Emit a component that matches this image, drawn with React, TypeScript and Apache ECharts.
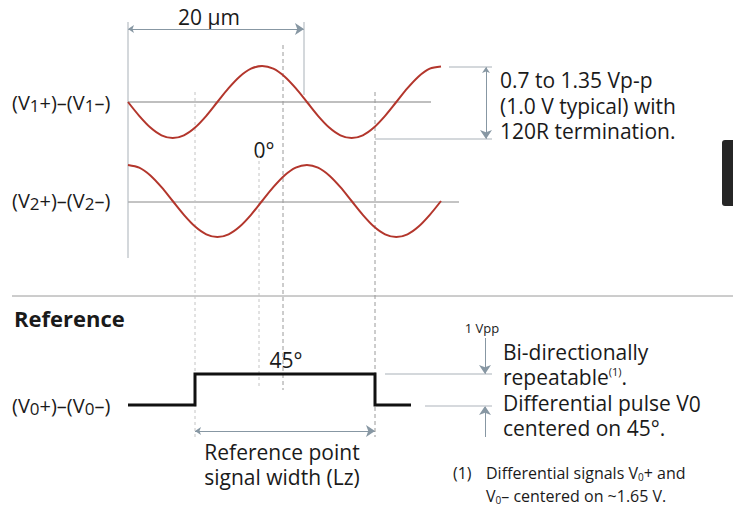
import React, { useEffect, useRef } from "react";
import * as echarts from "echarts";

const FONT = "'Open Sans', 'Noto Sans', sans-serif";

// Waveform sample positions (diagram units ≈ px) and levels
const waveX = [
  128, 139.2, 150.4, 161.5, 172.7, 183.9, 195.1, 206.3, 217.4, 228.6, 239.8, 251, 262.1, 273.3, 284.5,
  295.7, 306.9, 318, 329.2, 340.4, 351.6, 362.8, 373.9, 385.1, 396.3, 407.5, 418.6, 429.8, 441,
];
const wave1Y = [
  102, 115.8, 127.5, 135.3, 138, 135.3, 127.5, 115.8, 102, 88.2, 76.5, 68.7, 66, 68.7, 76.5, 88.2, 102,
  115.8, 127.5, 135.3, 138, 135.3, 127.5, 115.8, 102, 88.2, 76.5, 68.7, 66.5,
];
const wave2Y = [
  165, 167.7, 175.5, 187.2, 201, 214.8, 226.5, 234.3, 237, 234.3, 226.5, 214.8, 201, 187.2, 175.5, 167.7,
  165, 167.7, 175.5, 187.2, 201, 214.8, 226.5, 234.3, 237, 234.3, 226.5, 214.8, 201,
];

const pulseX = [128, 195, 195, 375, 375, 411];
const pulseY = [405, 405, 374, 374, 405, 405];

// Guide lines: [x1, y1, x2, y2]
const baseline1 = [128, 102, 431, 102];
const baseline2 = [128, 202, 459, 202];
const separator = [12, 296, 733, 296];
const solidGuides = [
  [128, 22, 128, 258],
  [304, 22, 304, 95],
  [449, 67, 492, 67],
  [375, 139, 492, 139],
  [385, 374, 492, 374],
];
const lightGuides = [[425, 406, 492, 406]];
const dottedGuides = [
  [195, 92, 195, 437],
  [259, 155, 259, 388],
];
const dashedGuides = [
  [283, 45, 283, 390],
  [375, 92, 375, 437],
];
const doubleArrows = [
  [128, 29, 304, 29],
  [486, 67, 486, 139],
  [195, 431, 375, 431],
];
const singleArrows = [
  [485, 338, 485, 374],
  [485, 437, 485, 406],
];

function segsData(list: number[][]) {
  const out: any[] = [];
  list.forEach((s) => {
    out.push([s[0], s[1]], [s[2], s[3]], [null, null]);
  });
  return out;
}

export default function App() {
  const ref = useRef<HTMLDivElement>(null);
  useEffect(() => {
    document.body.style.margin = "0";
    const chart = echarts.init(ref.current!, null, { renderer: "svg" });
    const arrowColor = "#8797a3";
    const ink = "#1a1a1a";
    const lineSeries = (data: any[], style: any, z = 2) => ({
      type: "line",
      data,
      showSymbol: false,
      connectNulls: false,
      silent: true,
      z,
      lineStyle: style,
    });
    const txt = (x: number, y: number, text: string, extra: any = {}) => {
      const fs = extra.fontSize || 21;
      return {
        type: "text",
        x,
        y,
        silent: true,
        style: {
          text,
          fill: ink,
          fontFamily: FONT,
          fontSize: fs,
          lineHeight: fs + 1,
          verticalAlign: "middle",
          align: "left",
          ...extra,
        },
      };
    };
    const subLabel = (y: number, n: string) =>
      txt(12, y, `{a|(V}{s|${n}}{a|+)–(V}{s|${n}}{a|–)}`, {
        fontSize: 20,
        rich: {
          a: { fontSize: 20, fontFamily: FONT, lineHeight: 24, fill: ink },
          s: { fontSize: 17, fontFamily: FONT, lineHeight: 17, verticalAlign: "bottom", fill: ink },
        },
      });
    const richLine = (x: number, y: number, text: string, fa: number, fs: number, sAlign: string, sLH: number) =>
      txt(x, y, text, {
        fontSize: fa,
        rich: {
          a: { fontSize: fa, fontFamily: FONT, lineHeight: fa + 1, fill: ink },
          s: { fontSize: fs, fontFamily: FONT, lineHeight: sLH, verticalAlign: sAlign, fill: ink },
        },
      });

    chart.setOption({
      animation: false,
      grid: { left: 0, right: 0, top: 0, bottom: 0 },
      xAxis: { type: "value", min: 0, max: 733, show: false },
      yAxis: { type: "value", min: 0, max: 506, inverse: true, show: false },
      series: [
        lineSeries(segsData([baseline1]), { color: "#aaaaaa", width: 1.5 }),
        lineSeries(segsData([baseline2]), { color: "#888888", width: 1 }),
        lineSeries(segsData([separator]), { color: "#9a9a9a", width: 1 }),
        lineSeries(segsData(solidGuides), { color: "#a9b1b8", width: 1 }),
        lineSeries(segsData(lightGuides), { color: "#c8cdd2", width: 1.5 }),
        lineSeries(segsData(dottedGuides), { color: "#c4c4c4", width: 1, type: [3, 3] }),
        lineSeries(segsData(dashedGuides), { color: "#9a9a9a", width: 1, type: [4, 3] }),
        {
          type: "line",
          data: waveX.map((x, i) => [x, wave1Y[i]]),
          smooth: 0.3,
          showSymbol: false,
          z: 5,
          lineStyle: { color: "#b3362c", width: 2 },
        },
        {
          type: "line",
          data: waveX.map((x, i) => [x, wave2Y[i]]),
          smooth: 0.3,
          showSymbol: false,
          z: 5,
          lineStyle: { color: "#b3362c", width: 2 },
        },
        {
          type: "line",
          data: pulseX.map((x, i) => [x, pulseY[i]]),
          showSymbol: false,
          z: 5,
          lineStyle: { color: "#111111", width: 3, join: "miter" },
        },
        {
          type: "lines",
          coordinateSystem: "cartesian2d",
          symbol: ["arrow", "arrow"],
          symbolSize: [6, 9],
          silent: true,
          lineStyle: { color: arrowColor, width: 1, opacity: 1 },
          data: doubleArrows.map((s) => ({ coords: [[s[0], s[1]], [s[2], s[3]]] })),
        },
        {
          type: "lines",
          coordinateSystem: "cartesian2d",
          symbol: ["none", "arrow"],
          symbolSize: [6, 9],
          silent: true,
          lineStyle: { color: arrowColor, width: 1, opacity: 1 },
          data: singleArrows.map((s) => ({ coords: [[s[0], s[1]], [s[2], s[3]]] })),
        },
      ],
      graphic: [
        txt(209, 17, "20 µm", { align: "center" }),
        txt(264, 150, "0°", { align: "center" }),
        subLabel(102, "1"),
        subLabel(200, "2"),
        subLabel(405, "0"),
        txt(500, 105.5, "0.7 to 1.35 Vp-p\n(1.0 V typical) with\n120R termination.", { lineHeight: 25.5 }),
        txt(14, 318, "Reference", { fontWeight: "bold", fontSize: 22 }),
        txt(286, 360, "45°", { align: "center" }),
        txt(282, 464.5, "Reference point\nsignal width (Lz)", { align: "center", lineHeight: 25 }),
        txt(482, 328, "1 Vpp", { fontSize: 13, align: "center" }),
        txt(503, 352, "Bi-directionally"),
        richLine(503, 377, "{a|repeatable}{s|(1)}{a|.}", 21, 11, "top", 14),
        richLine(503, 403, "{a|Differential pulse V}{s|0}", 21, 21, "bottom", 18),
        txt(503, 428, "centered on 45°."),
        txt(453, 473, "(1)", { fontSize: 16 }),
        richLine(486, 473, "{a|Differential signals V}{s|0}{a|+ and}", 16, 10, "bottom", 11),
        richLine(486, 496, "{a|V}{s|0}{a|– centered on ~1.65 V.}", 16, 10, "bottom", 11),
        {
          type: "rect",
          x: 722,
          y: 140,
          silent: true,
          shape: { width: 14, height: 66, r: 3 },
          style: { fill: "#262626" },
        },
      ],
    });
    return () => chart.dispose();
  }, []);
  return (
    <div
      ref={ref}
      style={{ position: "absolute", left: 0, top: 0, width: 733, height: 506, background: "#ffffff" }}
    />
  );
}
